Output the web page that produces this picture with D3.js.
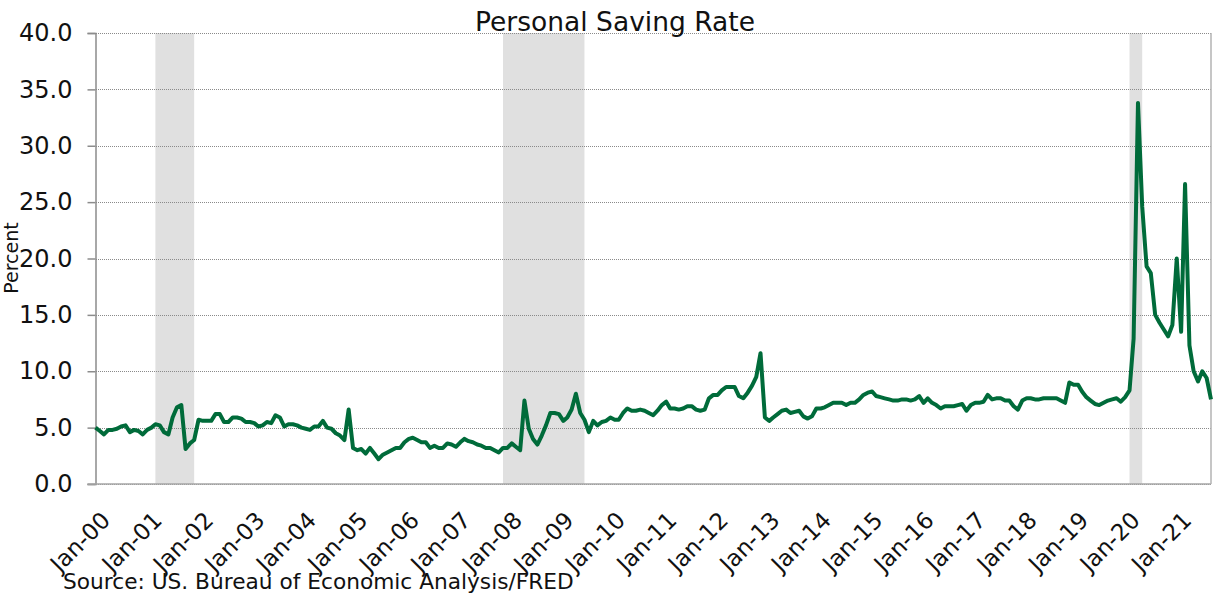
<!DOCTYPE html>

<head>
    <title>Personal Saving Rate</title>
    <script src="https://d3js.org/d3.v7.min.js"></script>
    <style>
        body { margin: 0; background: #fff; }
        svg text { font-family: "DejaVu Sans", Verdana, sans-serif; fill: #111; }
    </style>
</head>

<body>

    <div id="home"></div>

    <script>
        // monthly personal saving rate (percent), starting Jan 2000
        const firstMonth = "2000-01"
        const savingRate = [
            5.0, 4.7, 4.4, 4.8, 4.8, 4.9, 5.1, 5.2, 4.6, 4.8, 4.7, 4.4,
            4.8, 5.0, 5.3, 5.2, 4.6, 4.4, 5.9, 6.8, 7.0, 3.1, 3.6, 3.9,
            5.7, 5.6, 5.6, 5.6, 6.2, 6.2, 5.5, 5.5, 5.9, 5.9, 5.8, 5.5,
            5.5, 5.4, 5.1, 5.2, 5.5, 5.4, 6.1, 5.9, 5.1, 5.3, 5.3, 5.2,
            5.0, 4.9, 4.8, 5.1, 5.1, 5.6, 5.0, 4.9, 4.5, 4.3, 3.9, 6.6,
            3.2, 3.0, 3.1, 2.7, 3.2, 2.7, 2.2, 2.6, 2.8, 3.0, 3.2, 3.2,
            3.7, 4.0, 4.1, 3.9, 3.7, 3.7, 3.2, 3.4, 3.2, 3.2, 3.6, 3.5,
            3.3, 3.7, 4.0, 3.8, 3.7, 3.5, 3.4, 3.2, 3.2, 3.0, 2.8, 3.2,
            3.2, 3.6, 3.3, 3.0, 7.4, 4.9, 4.0, 3.5, 4.3, 5.2, 6.3, 6.3,
            6.2, 5.6, 5.9, 6.6, 8.0, 6.3, 5.7, 4.6, 5.6, 5.2, 5.5, 5.6,
            5.9, 5.7, 5.7, 6.3, 6.7, 6.5, 6.5, 6.6, 6.5, 6.3, 6.1, 6.5,
            7.0, 7.3, 6.7, 6.7, 6.6, 6.7, 6.9, 6.9, 6.6, 6.5, 6.6, 7.6,
            7.9, 7.9, 8.3, 8.6, 8.6, 8.6, 7.8, 7.6, 8.1, 8.7, 9.5, 11.6,
            5.9, 5.6, 5.9, 6.2, 6.5, 6.6, 6.3, 6.4, 6.5, 6.0, 5.8, 6.0,
            6.7, 6.7, 6.8, 7.0, 7.2, 7.2, 7.2, 7.0, 7.2, 7.2, 7.5, 7.9,
            8.1, 8.2, 7.8, 7.7, 7.6, 7.5, 7.4, 7.4, 7.5, 7.5, 7.4, 7.5,
            7.8, 7.2, 7.6, 7.2, 7.0, 6.7, 6.9, 6.9, 6.9, 7.0, 7.1, 6.5,
            7.0, 7.2, 7.2, 7.3, 7.9, 7.5, 7.6, 7.6, 7.4, 7.4, 6.9, 6.6,
            7.4, 7.6, 7.6, 7.5, 7.5, 7.6, 7.6, 7.6, 7.6, 7.4, 7.2, 9.0,
            8.8, 8.8, 8.2, 7.7, 7.4, 7.1, 7.0, 7.2, 7.4, 7.5, 7.6, 7.3,
            7.7, 8.3, 12.9, 33.8, 24.6, 19.3, 18.7, 15.0, 14.3, 13.7, 13.1, 14.1,
            20.0, 13.5, 26.6, 12.3, 10.0, 9.1, 10.0, 9.4, 7.5
        ]

        // recessions: first and last month
        const recessionStart = ["2001-03", "2007-12", "2020-02"]
        const recessionEnd = ["2001-11", "2009-06", "2020-04"]

        const xTickLabels = ["Jan-00", "Jan-01", "Jan-02", "Jan-03", "Jan-04", "Jan-05", "Jan-06", "Jan-07",
                             "Jan-08", "Jan-09", "Jan-10", "Jan-11", "Jan-12", "Jan-13", "Jan-14", "Jan-15",
                             "Jan-16", "Jan-17", "Jan-18", "Jan-19", "Jan-20", "Jan-21"]
        const yTicks = [0, 5, 10, 15, 20, 25, 30, 35, 40]

        const w = 1216;
        const h = 595;
        const plotLeft = 95.5, plotRight = 1211, plotTop = 33, plotBottom = 484;

        const parseMonth = d3.timeParse("%Y-%m")
        const parseTick = d3.timeParse("%b-%y")
        const start = parseMonth(firstMonth)
        const data = savingRate.map((v, i) => [d3.timeMonth.offset(start, i), v])

        const svg = d3.select("#home")
                      .append("svg")
                      .attr("width", w)
                      .attr("height", h)

        const xScale = d3.scaleTime()
                         .domain([start, data[data.length - 1][0]])
                         .range([plotLeft, plotRight])
        const yScale = d3.scaleLinear()
                         .domain([0, 40])
                         .range([plotBottom, plotTop])

        //recession shading
        svg.selectAll("rect.rec")
           .data(recessionStart)
           .enter()
           .append("rect")
           .attr("class", "rec")
           .attr("x", (d) => xScale(parseMonth(d)))
           .attr("y", plotTop)
           .attr("width", (d, i) => xScale(d3.timeMonth.offset(parseMonth(recessionEnd[i]), 1)) - xScale(parseMonth(d)))
           .attr("height", plotBottom - plotTop)
           .style("fill", "#e0e0e0")

        //grid lines
        const grid = svg.append("g")
                        .attr("transform", `translate(${plotLeft},0)`)
                        .call(d3.axisLeft(yScale).tickValues(yTicks).tickSize(-(plotRight - plotLeft)).tickFormat(""))
        grid.select(".domain").remove()
        grid.selectAll("line")
            .attr("stroke", "#8a8a8a")
            .attr("stroke-dasharray", "1,1")
            .attr("shape-rendering", "crispEdges")

        //Y-Axis preferences
        const yAxis = svg.append("g")
                         .attr("transform", `translate(${plotLeft},0)`)
                         .call(d3.axisLeft(yScale).tickValues(yTicks).tickFormat(d3.format(".1f")).tickSize(8).tickPadding(15))
        yAxis.select(".domain").attr("stroke", "#8c8c8c").attr("stroke-width", 1.5)
        yAxis.selectAll("line").attr("stroke", "#8c8c8c").attr("stroke-width", 1.5)
        yAxis.selectAll("text").style("font-size", "24px")

        svg.append("text")
           .attr("text-anchor", "middle")
           .attr("transform", "translate(18,258) rotate(-90)")
           .style("font-size", "19px")
           .text("Percent")

        //X-Axis preferences
        const xAxis = svg.append("g")
                         .attr("transform", `translate(0,${plotBottom})`)
                         .call(d3.axisBottom(xScale)
                                 .tickValues(xTickLabels.map(parseTick))
                                 .tickFormat(d3.timeFormat("%b-%y"))
                                 .tickSize(0))
        xAxis.select(".domain").remove()
        xAxis.selectAll("text")
             .attr("x", 0)
             .attr("y", 0)
             .attr("dy", "0.35em")
             .attr("text-anchor", "end")
             .attr("transform", "translate(10,32) rotate(-45)")
             .style("font-size", "23px")

        svg.append("line")
           .attr("x1", plotLeft - 8).attr("x2", plotRight)
           .attr("y1", yScale(0)).attr("y2", yScale(0))
           .attr("stroke", "#a6a6a6")
           .attr("stroke-width", 1.5)
        svg.append("line")
           .attr("x1", plotRight).attr("x2", plotRight)
           .attr("y1", plotTop).attr("y2", plotBottom)
           .attr("stroke", "#b3b3b3")
           .attr("stroke-width", 1.5)

        //saving rate line
        const line = d3.line()
                       .x((d) => xScale(d[0]))
                       .y((d) => yScale(d[1]))
        svg.append("path")
           .datum(data)
           .attr("d", line)
           .attr("fill", "none")
           .attr("stroke", "#006b3a")
           .attr("stroke-width", 4)
           .attr("stroke-linejoin", "round")

        svg.append("text")
           .attr("x", 615)
           .attr("y", 31)
           .attr("text-anchor", "middle")
           .style("font-size", "26.5px")
           .text("Personal Saving Rate")

        svg.append("text")
           .attr("x", 63)
           .attr("y", 589)
           .style("font-size", "21.7px")
           .text("Source: US. Bureau of Economic Analysis/FRED")
    </script>

</body>
